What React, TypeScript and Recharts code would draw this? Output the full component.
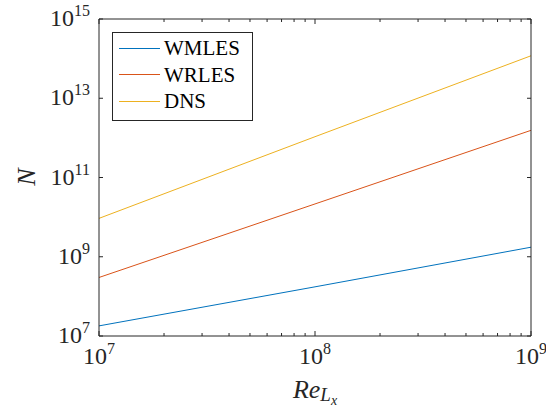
import React from 'react';
import { LineChart, Line, XAxis, YAxis, Legend } from 'recharts';

// Reynolds number samples (x) and grid point counts
const reLx = [1e7, 1e8, 1e9];
const wmles = [1.8e7, 1.74e8, 1.74e9];
const wrles = [3.0e8, 2.15e10, 1.55e12];
const dns = [9.3e9, 1.07e12, 1.18e14];

const xTicks = [
  1e7, 2e7, 3e7, 4e7, 5e7, 6e7, 7e7, 8e7, 9e7,
  1e8, 2e8, 3e8, 4e8, 5e8, 6e8, 7e8, 8e8, 9e8, 1e9,
];
const yTicks = [1e7, 1e9, 1e11, 1e13, 1e15];

const seriesNames = ['WMLES', 'WRLES', 'DNS'];
const seriesColors = ['#0072BD', '#D95319', '#EDB120'];

const data = reLx.map((re, i) => ({ re, wmles: wmles[i], wrles: wrles[i], dns: dns[i] }));

const axisColor = '#262626';
const serif = 'Liberation Serif';

const fontCss = `
#root .chart-root text, #root .chart-root tspan, #root .chart-root div, #root .chart-root span {
  font-family: "Liberation Serif", serif !important;
}
`;

const isDecade = (v: number) => {
  const e = Math.log10(v);
  return Math.abs(e - Math.round(e)) < 1e-9;
};

const Pow10 = ({ v }: { v: number }) => (
  <>
    <tspan fontSize={24}>10</tspan>
    <tspan fontSize={16} dy={-10}>{Math.round(Math.log10(v))}</tspan>
  </>
);

const BottomTick = (props: any) => {
  const { x, y, payload } = props;
  const major = isDecade(payload.value);
  return (
    <g>
      <line x1={x} x2={x} y1={y} y2={y - (major ? 5 : 3)} stroke={axisColor} />
      {major && (
        <text x={x} y={y + 28} textAnchor="middle" style={{ fontFamily: serif }} fill={axisColor}>
          <Pow10 v={payload.value} />
        </text>
      )}
    </g>
  );
};

const TopTick = (props: any) => {
  const { x, y, payload } = props;
  const major = isDecade(payload.value);
  return <line x1={x} x2={x} y1={y} y2={y + (major ? 5 : 3)} stroke={axisColor} />;
};

const LeftTick = (props: any) => {
  const { x, y, payload } = props;
  return (
    <g>
      <line x1={x} x2={x + 4} y1={y} y2={y} stroke={axisColor} />
      <text x={x - 9} y={y + 7} textAnchor="end" style={{ fontFamily: serif }} fill={axisColor}>
        <Pow10 v={payload.value} />
      </text>
    </g>
  );
};

const RightTick = (props: any) => {
  const { x, y } = props;
  return <line x1={x} x2={x - 4} y1={y} y2={y} stroke={axisColor} />;
};

const XLabel = () => (
  <text x={315} y={398} textAnchor="middle" style={{ fontFamily: serif, fontStyle: 'italic' }} fill={axisColor}>
    <tspan fontSize={26}>Re</tspan>
    <tspan fontSize={19} dy={3}>L</tspan>
    <tspan fontSize={14} dy={4}>x</tspan>
  </text>
);

const YLabel = () => (
  <text
    x={35}
    y={177}
    transform="rotate(-90, 35, 177)"
    textAnchor="middle"
    style={{ fontFamily: serif, fontStyle: 'italic' }}
    fontSize={26}
    fill={axisColor}
  >
    N
  </text>
);

const LegendBox = () => (
  <div
    style={{
      border: `1px solid ${axisColor}`,
      background: '#fff',
      width: 139,
      height: 85,
      boxSizing: 'content-box',
      paddingTop: 2,
      fontFamily: serif,
      fontSize: 21,
      color: '#000',
    }}
  >
    {seriesNames.map((name, i) => (
      <div key={name} style={{ display: 'flex', alignItems: 'center', height: 26.5 }}>
        <div style={{ width: 41, marginLeft: 6, marginRight: 4, borderTop: `1px solid ${seriesColors[i]}` }} />
        <span style={{ lineHeight: '26px' }}>{name}</span>
      </div>
    ))}
  </div>
);

const App: React.FC = () => {
  return (
    <div className="chart-root" style={{ position: 'absolute', left: 0, top: 0, background: '#fff' }}>
      <style>{fontCss}</style>
      <LineChart width={546} height={411} data={data} margin={{ top: 0, right: 0, bottom: 0, left: 0 }}>
        <XAxis
          dataKey="re"
          type="number"
          scale="log"
          domain={[1e7, 1e9]}
          allowDataOverflow
          ticks={xTicks}
          interval={0}
          tickSize={0}
          tickMargin={0}
          tickLine={false}
          tick={BottomTick}
          height={75}
          stroke={axisColor}
          label={<XLabel />}
        />
        <XAxis
          xAxisId="top"
          dataKey="re"
          orientation="top"
          type="number"
          scale="log"
          domain={[1e7, 1e9]}
          allowDataOverflow
          ticks={xTicks}
          interval={0}
          tickSize={0}
          tickMargin={0}
          tickLine={false}
          tick={TopTick}
          height={19}
          stroke={axisColor}
        />
        <YAxis
          type="number"
          scale="log"
          domain={[1e7, 1e15]}
          allowDataOverflow
          ticks={yTicks}
          interval={0}
          tickSize={0}
          tickMargin={0}
          tickLine={false}
          tick={LeftTick}
          width={99}
          stroke={axisColor}
          label={<YLabel />}
        />
        <YAxis
          yAxisId="right"
          orientation="right"
          type="number"
          scale="log"
          domain={[1e7, 1e15]}
          allowDataOverflow
          ticks={yTicks}
          interval={0}
          tickSize={0}
          tickMargin={0}
          tickLine={false}
          tick={RightTick}
          width={15}
          stroke={axisColor}
        />
        <Legend
          layout="vertical"
          align="center"
          verticalAlign="middle"
          content={<LegendBox />}
          wrapperStyle={{ left: 112, top: 32, width: 'auto' }}
        />
        <Line type="linear" dataKey="wmles" name={seriesNames[0]} stroke={seriesColors[0]} strokeWidth={1} dot={false} isAnimationActive={false} />
        <Line type="linear" dataKey="wrles" name={seriesNames[1]} stroke={seriesColors[1]} strokeWidth={1} dot={false} isAnimationActive={false} />
        <Line type="linear" dataKey="dns" name={seriesNames[2]} stroke={seriesColors[2]} strokeWidth={1} dot={false} isAnimationActive={false} />
      </LineChart>
    </div>
  );
};

export default App;
